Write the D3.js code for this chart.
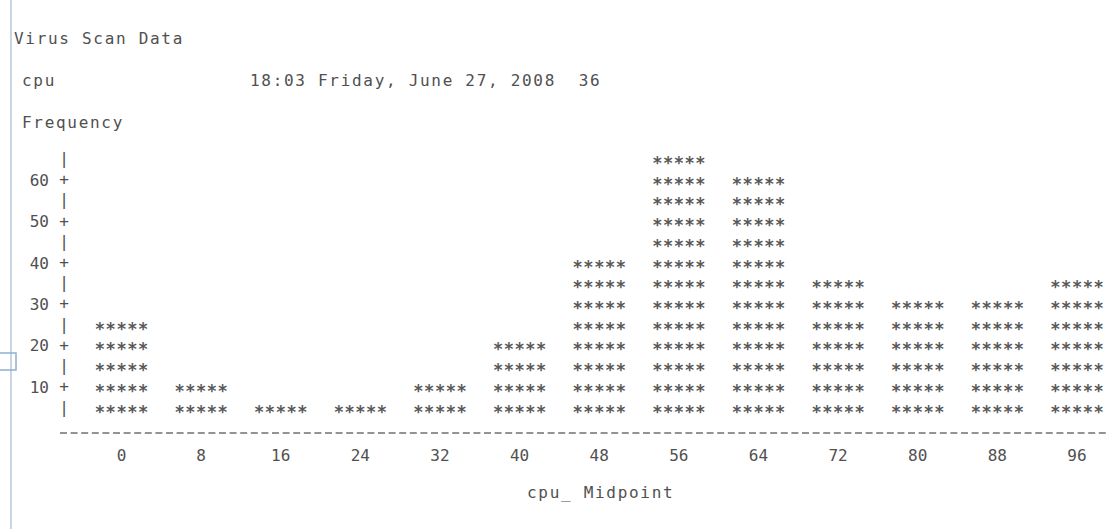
<!DOCTYPE html>
<html>
<head>
<meta charset="utf-8">
<script src="https://cdn.jsdelivr.net/npm/d3@7"></script>
<style>
  body { margin: 0; background: #fff; }
  svg text { font-family: "DejaVu Sans Mono", "Liberation Mono", monospace; font-size: 16px; fill: #505050; letter-spacing: 1.7px; white-space: pre; }
</style>
</head>
<body>
<div id="chart"></div>
<script>
var midpoints = [0, 8, 16, 24, 32, 40, 48, 56, 64, 72, 80, 88, 96];
var frequency = [25, 10, 5, 5, 10, 20, 40, 65, 60, 35, 30, 30, 35];
var yTicks = [10, 20, 30, 40, 50, 60];
var rowUnit = 5;
var title = "Virus Scan Data";
var varName = "cpu";
var dateLine = "18:03 Friday, June 27, 2008  36";
var yTitle = "Frequency";
var xTitle = "cpu_ Midpoint";

var W = 1108, H = 529;

var svg = d3.select("#chart").append("svg")
  .attr("width", W)
  .attr("height", H);

var x = d3.scalePoint()
  .domain(midpoints)
  .range([121.5, 1077]);

var y = d3.scaleLinear()
  .domain([rowUnit, 65])
  .range([407.5, 159]);

// window edge on the left
svg.append("line")
  .attr("x1", 11).attr("x2", 11)
  .attr("y1", 0).attr("y2", H)
  .attr("stroke", "#b9c9dd").attr("stroke-width", 1.5);
svg.append("path")
  .attr("d", "M0,353 H16 V370 H0")
  .attr("fill", "none")
  .attr("stroke", "#8fb0cf").attr("stroke-width", 1.5);

// header lines
svg.append("text").attr("x", 14).attr("y", 44).text(title);
svg.append("text").attr("x", 22).attr("y", 86).text(varName);
svg.append("text").attr("x", 250).attr("y", 86).attr("xml:space", "preserve").text(dateLine);
svg.append("text").attr("x", 22).attr("y", 128).text(yTitle);

// vertical axis drawn as characters
var rows = d3.range(rowUnit, 65 + 1, rowUnit);
svg.selectAll(".vtick")
  .data(rows)
  .enter()
  .append("text")
  .attr("class", "vtick")
  .attr("x", 64)
  .attr("y", function(d) { return y(d) + (d % 10 == 0 ? 5.5 : 5); })
  .attr("text-anchor", "middle")
  .style("letter-spacing", "0px")
  .text(function(d) { return d % 10 == 0 ? "+" : "|"; });

svg.selectAll(".vlabel")
  .data(yTicks)
  .enter()
  .append("text")
  .attr("class", "vlabel")
  .attr("x", 49)
  .attr("y", function(d) { return y(d) + 6; })
  .attr("text-anchor", "end")
  .style("letter-spacing", "0px")
  .text(function(d) { return d; });

// bars made of asterisks
var g = svg.selectAll(".bar")
  .data(midpoints.map(function(m, i) { return { mid: m, freq: frequency[i] }; }))
  .enter()
  .append("g")
  .attr("class", "bar");

g.selectAll("text")
  .data(function(d) {
    var out = [];
    d3.range(rowUnit, d.freq + 1, rowUnit).forEach(function(v) {
      for (var k = 0; k < 5; k++) out.push({ mid: d.mid, v: v, k: k });
    });
    return out;
  })
  .enter()
  .append("text")
  .attr("x", function(d) { return x(d.mid) + (d.k - 2) * 10.8; })
  .attr("y", function(d) { return y(d.v) + 10; })
  .attr("text-anchor", "middle")
  .style("letter-spacing", "0px")
  .style("font-size", "17px")
  .style("font-weight", "bold")
  .style("fill", "#585858")
  .text("*");

// dashed baseline
svg.append("line")
  .attr("x1", 60).attr("x2", W)
  .attr("y1", 433).attr("y2", 433)
  .attr("stroke", "#707070")
  .attr("stroke-width", 1.6)
  .attr("stroke-dasharray", "7,3.6");

// midpoint labels
svg.selectAll(".xlabel")
  .data(midpoints)
  .enter()
  .append("text")
  .attr("class", "xlabel")
  .attr("x", function(d) { return x(d); })
  .attr("y", 461)
  .attr("text-anchor", "middle")
  .style("letter-spacing", "0px")
  .text(function(d) { return d; });

svg.append("text")
  .attr("x", 527)
  .attr("y", 498)
  .text(xTitle);
</script>
</body>
</html>
